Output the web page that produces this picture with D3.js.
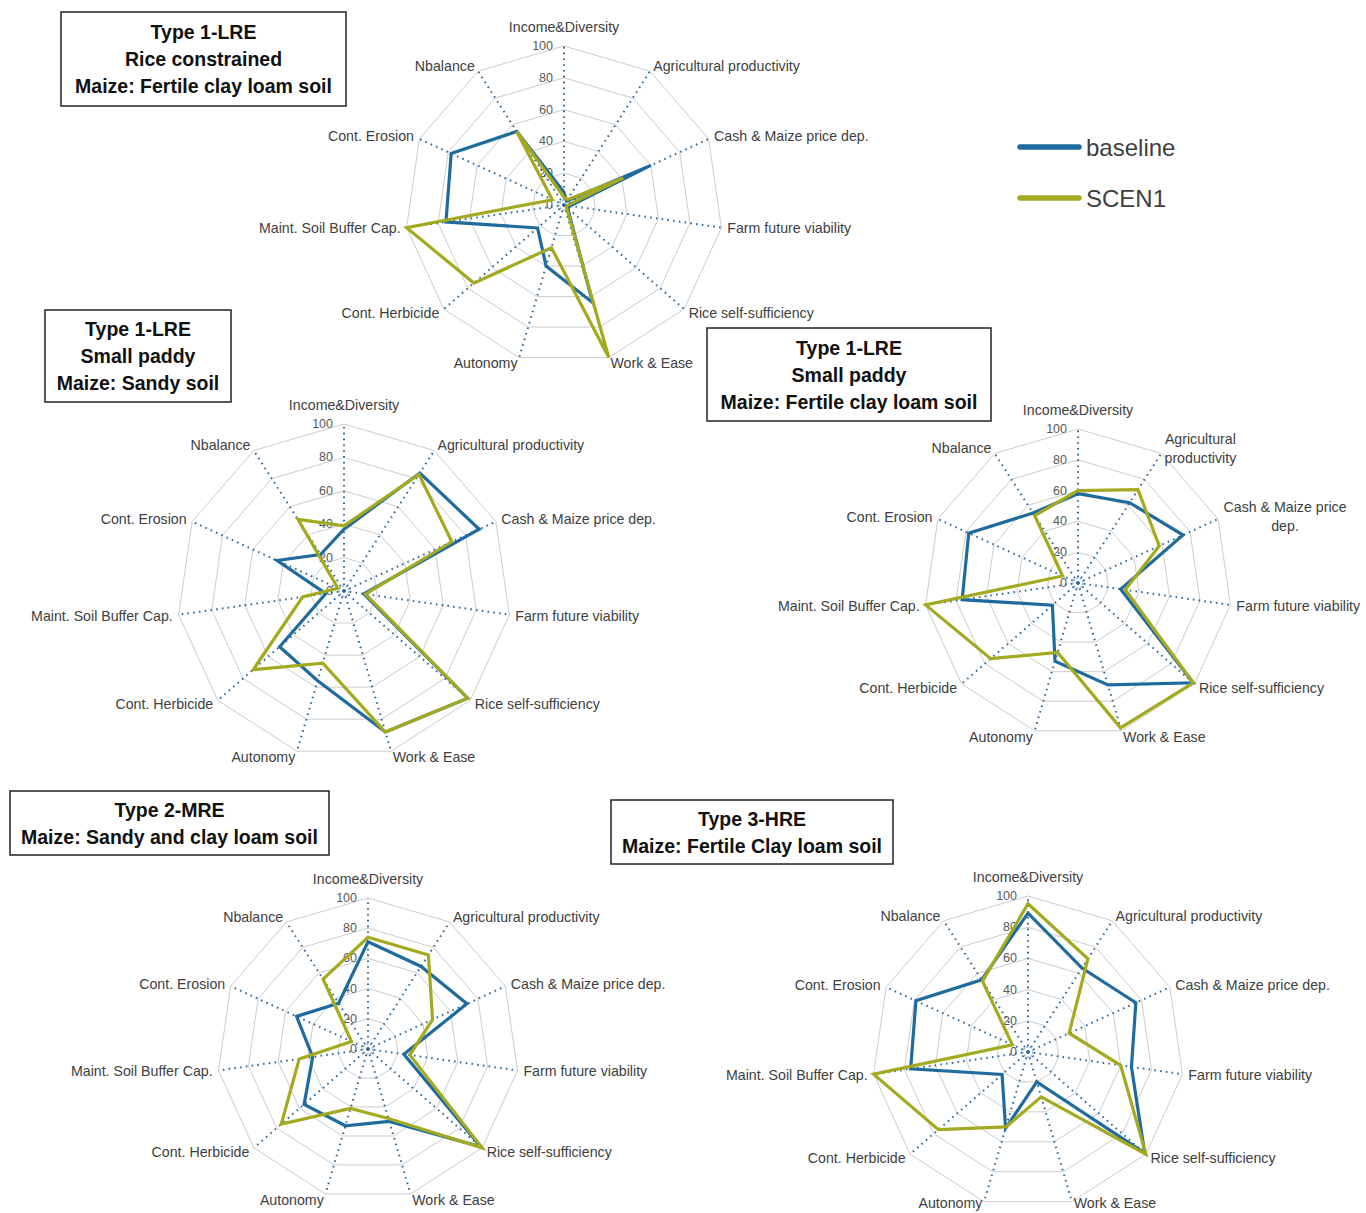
<!DOCTYPE html>
<html><head><meta charset="utf-8">
<script src="https://cdn.jsdelivr.net/npm/d3@7/dist/d3.min.js"></script>
<style>
body{margin:0;background:#fff;}
svg{display:block;font-family:"Liberation Sans",Arial,sans-serif;}
</style></head><body>
<svg id="chart" width="1366" height="1213"></svg>
<script>
// ---------- DATA ----------
const axes = ["Income&Diversity","Agricultural productivity","Cash & Maize price dep.","Farm future viability","Rice self-sufficiency","Work & Ease","Autonomy","Cont. Herbicide","Maint. Soil Buffer Cap.","Cont. Erosion","Nbalance"];
const tickValues = [0,20,40,60,80,100];
const seriesNames = ["baseline","SCEN1"];

// Type 1-LRE, Rice constrained, Maize: Fertile clay loam soil
const riceConstrainedBaseline = [8, 3, 60, 4, 3, 64, 40, 22, 75, 78, 55];
const riceConstrainedScen1    = [5, 4, 41, 2, 2, 100, 28, 75, 100, 8, 55];
// Type 1-LRE, Small paddy, Maize: Sandy soil
const smallPaddySandyBaseline = [37, 84, 89, 12, 98, 88, 56, 51, 11, 44, 26];
const smallPaddySandyScen1    = [39, 83, 71, 13, 98, 88, 45, 72, 25, 4, 51];
// Type 1-LRE, Small paddy, Maize: Fertile clay loam soil
const smallPaddyClayBaseline  = [58, 62, 75, 28, 99, 69, 53, 22, 76, 78, 54];
const smallPaddyClayScen1     = [60, 72, 58, 31, 99, 98, 47, 75, 100, 11, 52];
// Type 2-MRE, Maize: Sandy and clay loam soil
const type2Baseline = [71, 65, 72, 24, 99, 50, 53, 56, 37, 52, 36];
const type2Scen1    = [74, 74, 47, 28, 100, 48, 41, 76, 46, 12, 55];
// Type 3-HRE, Maize: Fertile Clay loam soil
const type3Baseline = [89, 64, 76, 67, 99, 20, 51, 22, 76, 79, 55];
const type3Scen1    = [95, 71, 29, 60, 100, 30, 50, 76, 100, 11, 54];

const title1 = ["Type 1-LRE","Rice constrained","Maize: Fertile clay loam soil"];
const title2 = ["Type 1-LRE","Small paddy","Maize: Sandy soil"];
const title3 = ["Type 1-LRE","Small paddy","Maize: Fertile clay loam soil"];
const title4 = ["Type 2-MRE","Maize: Sandy and clay loam soil"];
const title5 = ["Type 3-HRE","Maize: Fertile Clay loam soil"];

// label wrapping used in third panel
const wrapped3 = {"Agricultural productivity":["Agricultural","productivity"],"Cash & Maize price dep.":["Cash & Maize price","dep."]};

// ---------- LAYOUT / STYLE ----------
const colors = {"baseline":"#1f6b9e","SCEN1":"#a3aa1f"};
const panels = [
  {title:title1, vals:[riceConstrainedBaseline,riceConstrainedScen1], cx:564, cy:205, R:159, box:[61,12,285,94], wrap:{}},
  {title:title2, vals:[smallPaddySandyBaseline,smallPaddySandyScen1], cx:344, cy:591, R:167, box:[45,310,186,92], wrap:{}},
  {title:title3, vals:[smallPaddyClayBaseline,smallPaddyClayScen1], cx:1078, cy:583, R:154, box:[707,328,284,93], wrap:wrapped3},
  {title:title4, vals:[type2Baseline,type2Scen1], cx:368, cy:1049, R:151, box:[10,791,319,64], wrap:{}},
  {title:title5, vals:[type3Baseline,type3Scen1], cx:1028, cy:1052, R:156, box:[611,800,282,64], wrap:{}}
];
const H = 1213;

const svg = d3.select("#chart");
const n = axes.length;
const angle = d3.scaleLinear().domain([0, n]).range([0, 2*Math.PI]);

panels.forEach(p => {
  const g = svg.append("g").attr("transform", `translate(${p.cx},${p.cy})`);
  const r = d3.scaleLinear().domain([0,100]).range([0,p.R]);

  // grid rings
  const ringLine = d3.lineRadial().curve(d3.curveLinearClosed)
      .angle((d,i)=>angle(i)).radius(d=>r(d));
  tickValues.filter(t=>t>0).forEach(t=>{
    g.append("path").attr("d", ringLine(axes.map(()=>t)))
      .attr("fill","none").attr("stroke","#cccccc").attr("stroke-width",1);
  });
  // small centre ring
  g.append("circle").attr("r",5).attr("fill","none").attr("stroke","#7f9dbc")
    .attr("stroke-width",1.2).attr("stroke-dasharray","2,1.5");

  // spokes
  axes.forEach((a,i)=>{
    const th = angle(i);
    g.append("line").attr("x1",0).attr("y1",0)
      .attr("x2", r(100)*Math.sin(th)).attr("y2", -r(100)*Math.cos(th))
      .attr("stroke","#2f6a9a").attr("stroke-width",2)
      .attr("stroke-dasharray","1.6,4.2");
  });

  // tick labels
  tickValues.forEach(t=>{
    g.append("text").attr("x",-11).attr("y",-r(t))
      .attr("text-anchor","end").attr("dominant-baseline","central")
      .attr("font-size",12.5).attr("fill","#595959").text(t);
  });

  // series
  const line = d3.lineRadial().curve(d3.curveLinearClosed)
      .angle((d,i)=>angle(i)).radius(d=>r(d));
  p.vals.forEach((vals,si)=>{
    g.append("path").attr("d", line(vals)).attr("fill","none")
      .attr("stroke", colors[seriesNames[si]]).attr("stroke-width",3.2)
      .attr("stroke-linejoin","miter");
  });

  // axis labels
  axes.forEach((a,i)=>{
    const th = angle(i);
    const ux = Math.sin(th), uy = -Math.cos(th);
    const lines = p.wrap[a] || [a];
    let x, y, anchor;
    if (i === 0) { x = 0; y = -p.R - 19; anchor = "middle"; }
    else {
      x = (p.R+6)*ux; y = (p.R+6)*uy;
      anchor = ux > 0 ? "start" : "end";
    }
    y = Math.min(y, H - 10 - p.cy);
    const t = g.append("text").attr("font-size",14.2).attr("fill","#404040")
      .attr("dominant-baseline","central");
    if (lines.length === 1) {
      t.attr("x",x).attr("y",y).attr("text-anchor",anchor).text(a);
    } else {
      const tmp = g.append("text").attr("font-size",14.2);
      let w = 0;
      lines.forEach(l=>{ tmp.text(l); w = Math.max(w, tmp.node().getComputedTextLength()); });
      tmp.remove();
      const mid = anchor==="start" ? x + w/2 : x - w/2;
      lines.forEach((l,k)=>{
        t.append("tspan").attr("x",mid).attr("y", y + (k-(lines.length-1)/2)*19)
          .attr("text-anchor","middle").text(l);
      });
    }
  });

  // title box
  const [bx,by,bw,bh] = p.box;
  svg.append("rect").attr("x",bx).attr("y",by).attr("width",bw).attr("height",bh)
    .attr("fill","#fff").attr("stroke","#222").attr("stroke-width",1.5);
  const sp = 27;
  p.title.forEach((l,k)=>{
    svg.append("text").attr("x",bx+bw/2).attr("y",by+bh/2 + (k-(p.title.length-1)/2)*sp)
      .attr("text-anchor","middle").attr("dominant-baseline","central")
      .attr("font-size",19.5).attr("font-weight","bold").attr("fill","#111").text(l);
  });
});

// legend
const legY = [147,198];
seriesNames.forEach((s,i)=>{
  svg.append("line").attr("x1",1020).attr("x2",1079).attr("y1",legY[i]).attr("y2",legY[i])
    .attr("stroke",colors[s]).attr("stroke-width",5.5).attr("stroke-linecap","round");
  svg.append("text").attr("x",1086).attr("y",legY[i]).attr("dominant-baseline","central")
    .attr("font-size",24).attr("fill","#404040").text(s);
});
</script>
</body></html>
